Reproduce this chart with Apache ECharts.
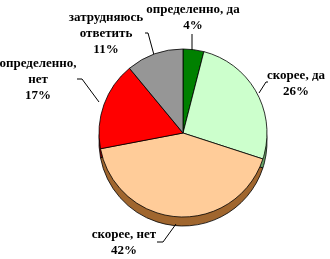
<!DOCTYPE html>
<html><head><meta charset="utf-8">
<script src="https://cdn.jsdelivr.net/npm/echarts@6/dist/echarts.min.js"></script>
<style>html,body{margin:0;padding:0;background:#fff}#c{width:330px;height:259px}</style>
</head><body><div id="c"></div>
<script>
var categories = ['определенно, да', 'скорее, да', 'скорее, нет', 'определенно,\nнет', 'затрудняюсь\nответить'];
var values = [4, 26, 42, 17, 11];
var topColors = ['#008000', '#ccffcc', '#ffcc99', '#ff0000', '#969696'];
var sideColors = ['#004000', '#66a066', '#a0662e', '#800000', '#4b4b4b'];

var labelPos = [
  {x:193, y:18, line:[[192,34],[192,34],[192,54]]},
  {x:296, y:84, line:[[268,82],[266,82],[259,93]]},
  {x:124, y:243, line:[[157,242],[163,242],[176,224]]},
  {x:38, y:80, line:[[77,79],[82,79],[99,102]]},
  {x:106, y:34, line:[[145,33],[148,33],[154,55]]}
];

var chart = echarts.init(document.getElementById('c'), null, {renderer:'canvas'});
var cx = 183, cy = 133, r = 84, depth = 9;
function mk(colors){
  return categories.map(function(n,i){return {name:n, value:values[i], itemStyle:{color:colors[i]}};});
}
chart.setOption({
  backgroundColor:'#fff',
  animation:false,
  series:[
    {type:'pie', silent:true, center:[cx, cy+depth], radius:r, startAngle:90, clockwise:true,
     data:mk(sideColors), label:{show:false}, labelLine:{show:false},
     itemStyle:{borderColor:'#000', borderWidth:0.8}, z:1},
    {type:'pie', center:[cx, cy], radius:r, startAngle:90, clockwise:true,
     data:mk(topColors),
     itemStyle:{borderColor:'#000', borderWidth:0.8},
     label:{show:true, position:'outside', overflow:'none', width:120, formatter:function(p){return p.name+'\n'+p.value+'%';},
       fontFamily:'"Liberation Serif", "DejaVu Serif", serif', fontWeight:'bold', fontSize:13, lineHeight:16, color:'#000', align:'center'},
     labelLine:{show:true, lineStyle:{color:'#000', width:1}, length:10, length2:5},
     labelLayout:function(p){
       var L = labelPos[p.dataIndex];
       return {x:L.x, y:L.y, align:'center', verticalAlign:'middle', labelLinePoints:L.line};
     },
     z:2}
  ]
});
</script></body></html>
